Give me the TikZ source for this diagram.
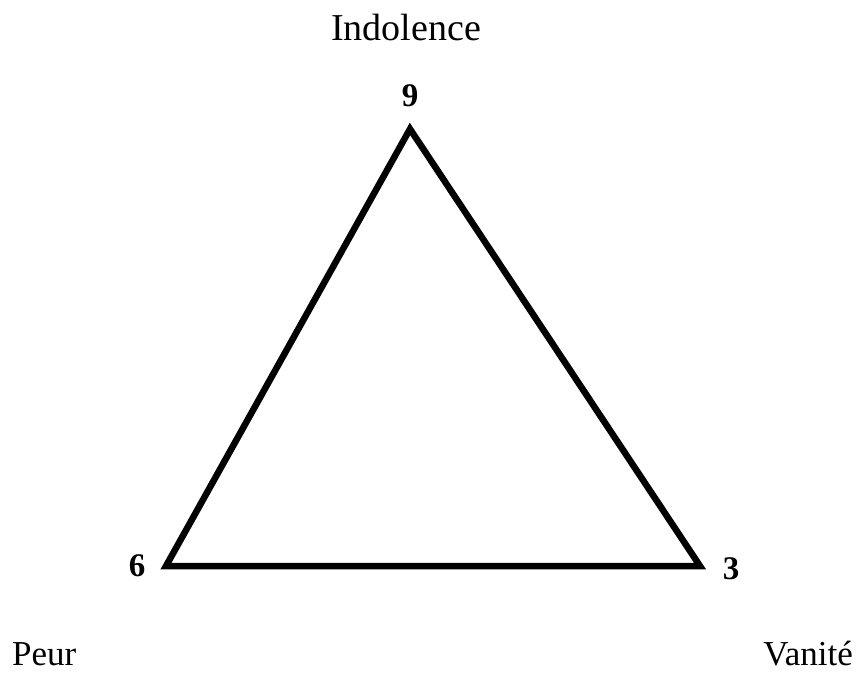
\documentclass[tikz,border=0pt]{standalone}
\usepackage{fontspec}
\setmainfont{Liberation Serif}
\begin{document}
\begin{tikzpicture}[x=1pt,y=-1pt,
  word/.style={inner sep=0pt,anchor=base,font=\fontsize{35}{40}\selectfont},
  digit/.style={inner sep=0pt,anchor=base,font=\fontsize{33}{36}\selectfont\bfseries},
  edge/.style={line width=6.5pt,line join=miter,black}]
\useasboundingbox (0,0) rectangle (862,672);
\coordinate (v9) at (410,129);
\coordinate (v6) at (166,566);
\coordinate (v3) at (700,566);
\draw[edge] (v9) -- (v3) -- (v6) -- cycle;
\node[digit] (n9) at (410,106) {9};
\node[digit] (n6) at (137,576) {6};
\node[digit] (n3) at (731,579) {3};
\node[word,font=\fontsize{38}{42}\selectfont] (indolence) at (406,40) {Indolence};
\node[word,anchor=base west] (peur) at (12,665) {Peur};
\node[word,anchor=base east] (vanite) at (853,665) {Vanité};
\end{tikzpicture}
\end{document}
